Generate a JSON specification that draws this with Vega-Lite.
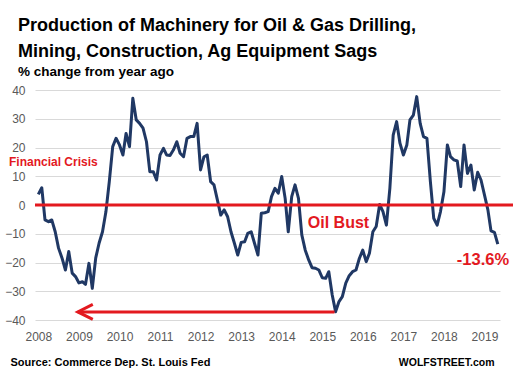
{
  "$schema": "https://vega.github.io/schema/vega-lite/v6.json",
  "width": 465,
  "height": 230,
  "autosize": "none",
  "padding": {"left": 35, "top": 90, "right": 13, "bottom": 54},
  "background": "white",
  "config": {"font": "Liberation Sans", "view": {"stroke": null}},
  "title": {
    "text": ["Production of Machinery for Oil & Gas Drilling,", "Mining, Construction, Ag Equipment Sags"],
    "subtitle": "% change from year ago",
    "anchor": "start",
    "frame": "group",
    "dx": -17,
    "font": "Liberation Sans",
    "fontSize": 18,
    "fontWeight": "bold",
    "color": "#000000",
    "lineHeight": 25.5,
    "subtitleFont": "Liberation Sans",
    "subtitleFontSize": 13.5,
    "subtitleFontWeight": "bold",
    "subtitleColor": "#000000",
    "subtitlePadding": 4,
    "offset": 6
  },
  "resolve": {"axis": {"x": "independent", "y": "independent"}},
  "datasets": {
    "series": [
      {"date": "2008-01-01", "v": 3.7}, {"date": "2008-02-01", "v": 6}, {"date": "2008-03-01", "v": -5.2}, {"date": "2008-04-01", "v": -5.8},
      {"date": "2008-05-01", "v": -5.2}, {"date": "2008-06-01", "v": -9.3}, {"date": "2008-07-01", "v": -15}, {"date": "2008-08-01", "v": -18.4},
      {"date": "2008-09-01", "v": -22.6}, {"date": "2008-10-01", "v": -16.2}, {"date": "2008-11-01", "v": -23.7}, {"date": "2008-12-01", "v": -24.9},
      {"date": "2009-01-01", "v": -27.1}, {"date": "2009-02-01", "v": -26.7}, {"date": "2009-03-01", "v": -27.6}, {"date": "2009-04-01", "v": -20.3},
      {"date": "2009-05-01", "v": -29}, {"date": "2009-06-01", "v": -18.4}, {"date": "2009-07-01", "v": -13.3}, {"date": "2009-08-01", "v": -9.3},
      {"date": "2009-09-01", "v": -2.3}, {"date": "2009-10-01", "v": 8.1}, {"date": "2009-11-01", "v": 20.3}, {"date": "2009-12-01", "v": 23.2},
      {"date": "2010-01-01", "v": 20.9}, {"date": "2010-02-01", "v": 17.4}, {"date": "2010-03-01", "v": 24.9}, {"date": "2010-04-01", "v": 20.3},
      {"date": "2010-05-01", "v": 37.1}, {"date": "2010-06-01", "v": 29.6}, {"date": "2010-07-01", "v": 28.4}, {"date": "2010-08-01", "v": 26.7},
      {"date": "2010-09-01", "v": 22}, {"date": "2010-10-01", "v": 11.6}, {"date": "2010-11-01", "v": 11.6}, {"date": "2010-12-01", "v": 8.7},
      {"date": "2011-01-01", "v": 17.4}, {"date": "2011-02-01", "v": 19.7}, {"date": "2011-03-01", "v": 17.4}, {"date": "2011-04-01", "v": 17.2},
      {"date": "2011-05-01", "v": 19.1}, {"date": "2011-06-01", "v": 22}, {"date": "2011-07-01", "v": 18}, {"date": "2011-08-01", "v": 16.8},
      {"date": "2011-09-01", "v": 23.2}, {"date": "2011-10-01", "v": 23.8}, {"date": "2011-11-01", "v": 23.8}, {"date": "2011-12-01", "v": 28.4},
      {"date": "2012-01-01", "v": 12.2}, {"date": "2012-02-01", "v": 16.8}, {"date": "2012-03-01", "v": 17.4}, {"date": "2012-04-01", "v": 8.1},
      {"date": "2012-05-01", "v": 7}, {"date": "2012-06-01", "v": 1.7}, {"date": "2012-07-01", "v": -3.5}, {"date": "2012-08-01", "v": -1.7},
      {"date": "2012-09-01", "v": -4.1}, {"date": "2012-10-01", "v": -9.3}, {"date": "2012-11-01", "v": -13.3}, {"date": "2012-12-01", "v": -17.4},
      {"date": "2013-01-01", "v": -13}, {"date": "2013-02-01", "v": -12.8}, {"date": "2013-03-01", "v": -9.9}, {"date": "2013-04-01", "v": -9.3},
      {"date": "2013-05-01", "v": -13.3}, {"date": "2013-06-01", "v": -17.4}, {"date": "2013-07-01", "v": -2.9}, {"date": "2013-08-01", "v": -2.7},
      {"date": "2013-09-01", "v": -2.3}, {"date": "2013-10-01", "v": 2.9}, {"date": "2013-11-01", "v": 5.8}, {"date": "2013-12-01", "v": 4.1},
      {"date": "2014-01-01", "v": 9.9}, {"date": "2014-02-01", "v": 2.3}, {"date": "2014-03-01", "v": -9.3}, {"date": "2014-04-01", "v": 2.9},
      {"date": "2014-05-01", "v": 7}, {"date": "2014-06-01", "v": 2.3}, {"date": "2014-07-01", "v": -10.4}, {"date": "2014-08-01", "v": -15.7},
      {"date": "2014-09-01", "v": -19.1}, {"date": "2014-10-01", "v": -21.8}, {"date": "2014-11-01", "v": -22}, {"date": "2014-12-01", "v": -22.6},
      {"date": "2015-01-01", "v": -25.3}, {"date": "2015-02-01", "v": -25.5}, {"date": "2015-03-01", "v": -23.2}, {"date": "2015-04-01", "v": -31.3},
      {"date": "2015-05-01", "v": -37.1}, {"date": "2015-06-01", "v": -33.6}, {"date": "2015-07-01", "v": -31.9}, {"date": "2015-08-01", "v": -27.2},
      {"date": "2015-09-01", "v": -24.6}, {"date": "2015-10-01", "v": -23.2}, {"date": "2015-11-01", "v": -22.6}, {"date": "2015-12-01", "v": -18.6},
      {"date": "2016-01-01", "v": -15.7}, {"date": "2016-02-01", "v": -19.7}, {"date": "2016-03-01", "v": -16.8}, {"date": "2016-04-01", "v": -9.3},
      {"date": "2016-05-01", "v": -7.5}, {"date": "2016-06-01", "v": 0.2}, {"date": "2016-07-01", "v": -2.3}, {"date": "2016-08-01", "v": -7},
      {"date": "2016-09-01", "v": 5.8}, {"date": "2016-10-01", "v": 24.3}, {"date": "2016-11-01", "v": 29}, {"date": "2016-12-01", "v": 21.5},
      {"date": "2017-01-01", "v": 17.4}, {"date": "2017-02-01", "v": 20.9}, {"date": "2017-03-01", "v": 29.6}, {"date": "2017-04-01", "v": 31.3},
      {"date": "2017-05-01", "v": 37.7}, {"date": "2017-06-01", "v": 28.4}, {"date": "2017-07-01", "v": 23.8}, {"date": "2017-08-01", "v": 23.2},
      {"date": "2017-09-01", "v": 8.1}, {"date": "2017-10-01", "v": -4.6}, {"date": "2017-11-01", "v": -7}, {"date": "2017-12-01", "v": -2.3},
      {"date": "2018-01-01", "v": 4.6}, {"date": "2018-02-01", "v": 20.9}, {"date": "2018-03-01", "v": 16.8}, {"date": "2018-04-01", "v": 15.7},
      {"date": "2018-05-01", "v": 15.3}, {"date": "2018-06-01", "v": 6.4}, {"date": "2018-07-01", "v": 20.9}, {"date": "2018-08-01", "v": 11},
      {"date": "2018-09-01", "v": 13.9}, {"date": "2018-10-01", "v": 5.2}, {"date": "2018-11-01", "v": 11.4}, {"date": "2018-12-01", "v": 8.7},
      {"date": "2019-01-01", "v": 3.5}, {"date": "2019-02-01", "v": -1.7}, {"date": "2019-03-01", "v": -9}, {"date": "2019-04-01", "v": -9.5},
      {"date": "2019-05-01", "v": -13.6}
    ],
    "zeroLine": [{"name": "zero"}],
    "arrow": [{"name": "Oil bust low"}],
    "crisis": [{"label": "Financial Crisis"}],
    "bust": [{"label": "Oil Bust"}],
    "last": [{"label": "-13.6%"}]
  },
  "layer": [
    {
      "data": {"name": "series"},
      "mark": {"type": "line", "color": "#203864", "strokeWidth": 3, "strokeJoin": "round"},
      "encoding": {
        "x": {
          "field": "date",
          "type": "temporal",
          "scale": {
            "type": "utc",
            "domain": [{"year": 2007, "month": 12, "date": 2, "utc": true}, {"year": 2019, "month": 5, "date": 21, "utc": true}]
          },
          "axis": {
            "values": [
              {"year": 2008, "month": 1, "date": 1, "utc": true}, {"year": 2009, "month": 1, "date": 1, "utc": true},
              {"year": 2010, "month": 1, "date": 1, "utc": true}, {"year": 2011, "month": 1, "date": 1, "utc": true},
              {"year": 2012, "month": 1, "date": 1, "utc": true}, {"year": 2013, "month": 1, "date": 1, "utc": true},
              {"year": 2014, "month": 1, "date": 1, "utc": true}, {"year": 2015, "month": 1, "date": 1, "utc": true},
              {"year": 2016, "month": 1, "date": 1, "utc": true}, {"year": 2017, "month": 1, "date": 1, "utc": true},
              {"year": 2018, "month": 1, "date": 1, "utc": true}, {"year": 2019, "month": 1, "date": 1, "utc": true}
            ],
            "format": "%Y",
            "formatType": "utc",
            "grid": false,
            "ticks": false,
            "domain": false,
            "labelColor": "#595959",
            "labelFontSize": 12,
            "labelPadding": 11,
            "labelOverlap": false,
            "title": "Source: Commerce Dep. St. Louis Fed",
            "titleX": -25,
            "titleY": 42,
            "titleAlign": "left",
            "titleAnchor": null,
            "titleBaseline": "middle",
            "titleFontSize": 11,
            "titleFontWeight": "bold",
            "titleColor": "#000000"
          }
        },
        "y": {
          "field": "v",
          "type": "quantitative",
          "scale": {"domain": [-40, 40], "nice": false, "zero": false},
          "axis": {
            "values": [-40, -30, -20, -10, 0, 10, 20, 30, 40],
            "grid": true,
            "gridColor": "#d9d9d9",
            "gridWidth": 1,
            "ticks": false,
            "domain": false,
            "labelColor": "#595959",
            "labelFontSize": 12,
            "labelPadding": 10,
            "labelOverlap": false,
            "title": "WOLFSTREET.com",
            "titleAngle": 0,
            "titleX": 459,
            "titleY": 272,
            "titleAlign": "right",
            "titleBaseline": "middle",
            "titleFontSize": 10.5,
            "titleFontWeight": "bold",
            "titleColor": "#000000"
          }
        }
      }
    },
    {
      "data": {"name": "zeroLine"},
      "mark": {"type": "rule", "color": "#e3191f", "strokeWidth": 3},
      "encoding": {
        "x": {"datum": {"year": 2007, "month": 12, "date": 2, "utc": true}, "type": "temporal", "axis": null},
        "x2": {"datum": {"year": 2019, "month": 9, "date": 20, "utc": true}},
        "y": {"datum": 0, "type": "quantitative", "axis": null}
      }
    },
    {
      "data": {"name": "arrow"},
      "mark": {"type": "rule", "color": "#e3191f", "strokeWidth": 3},
      "encoding": {
        "x": {"datum": {"year": 2008, "month": 12, "date": 21, "utc": true}, "type": "temporal", "axis": null},
        "x2": {"datum": {"year": 2015, "month": 4, "date": 22, "utc": true}},
        "y": {"datum": -37.2, "type": "quantitative", "axis": null}
      }
    },
    {
      "data": {"name": "arrow"},
      "mark": {"type": "point", "shape": "M1,-1L-1,0L1,1", "size": 225, "filled": false, "stroke": "#e3191f", "strokeWidth": 3, "opacity": 1},
      "encoding": {
        "x": {"datum": {"year": 2009, "month": 2, "date": 27, "utc": true}, "type": "temporal", "axis": null},
        "y": {"datum": -37.2, "type": "quantitative", "axis": null}
      }
    },
    {
      "data": {"name": "crisis"},
      "mark": {"type": "text", "color": "#e3191f", "fontSize": 12, "fontWeight": "bold", "align": "left", "baseline": "alphabetic"},
      "encoding": {
        "text": {"field": "label"},
        "x": {"datum": {"year": 2007, "month": 4, "date": 12, "utc": true}, "type": "temporal", "axis": null},
        "y": {"datum": 13.6, "type": "quantitative", "axis": null}
      }
    },
    {
      "data": {"name": "bust"},
      "mark": {"type": "text", "color": "#e3191f", "fontSize": 16, "fontWeight": "bold", "align": "left", "baseline": "alphabetic"},
      "encoding": {
        "text": {"field": "label"},
        "x": {"datum": {"year": 2014, "month": 8, "date": 24, "utc": true}, "type": "temporal", "axis": null},
        "y": {"datum": -7.9, "type": "quantitative", "axis": null}
      }
    },
    {
      "data": {"name": "last"},
      "mark": {"type": "text", "color": "#e3191f", "fontSize": 16.5, "fontWeight": "bold", "align": "left", "baseline": "alphabetic"},
      "encoding": {
        "text": {"field": "label"},
        "x": {"datum": {"year": 2018, "month": 4, "date": 27, "utc": true}, "type": "temporal", "axis": null},
        "y": {"datum": -20.9, "type": "quantitative", "axis": null}
      }
    }
  ]
}
